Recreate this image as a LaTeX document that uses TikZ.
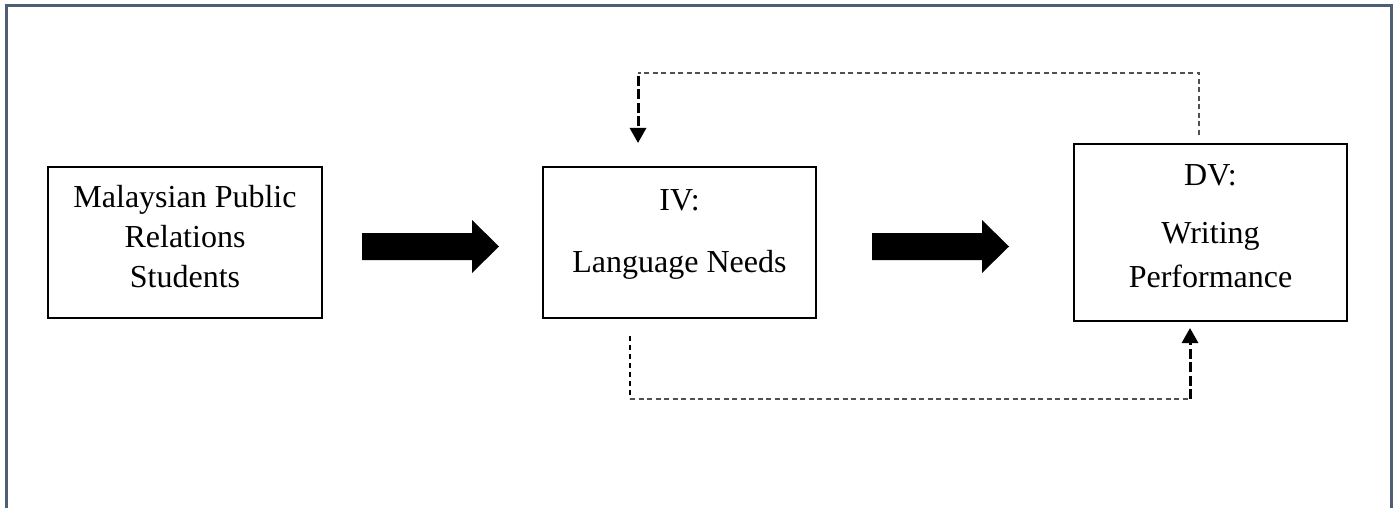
\documentclass[tikz,border=0pt]{standalone}
\usepackage{fontspec}
\setmainfont{Liberation Serif}
\usetikzlibrary{arrows.meta}
\definecolor{framecol}{RGB}{78,94,117}
\definecolor{thindash}{RGB}{80,80,80}
\tikzset{
  box/.style={draw=black, line width=2.8pt, rectangle, inner sep=0pt},
  lbl/.style={anchor=base, inner sep=0pt, font=\fontsize{32}{40}\selectfont},
  blockarrow/.style={fill=black, draw=none},
  thinline/.style={draw=thindash, line width=1.5pt, dash pattern=on 5pt off 3.5pt},
  thickdash/.style={draw=black, line width=3pt, dash pattern=on 10pt off 3.5pt},
  shortdash/.style={draw=black, line width=2.2pt, dash pattern=on 5pt off 4pt},
  tip/.style={-{Triangle[width=16pt 0, length=15pt 0]}}
}
\begin{document}
\begin{tikzpicture}[x=1pt,y=-1pt]
\useasboundingbox (0,0) rectangle (1399,508);
% outer frame (open at bottom)
\draw[framecol, line width=3pt] (6.5,508) -- (6.5,6) -- (1391,6) -- (1391,508);

% boxes
\node[box, minimum width=274pt, minimum height=151pt] (b1) at (185,242.5) {};
\node[box, minimum width=273pt, minimum height=151pt] (b2) at (679.5,242.5) {};
\node[box, minimum width=273pt, minimum height=177pt] (b3) at (1210.5,232.5) {};

% texts
\node[lbl] (t1a) at (185,207) {Malaysian Public};
\node[lbl] (t1b) at (185,247) {Relations};
\node[lbl] (t1c) at (185,287) {Students};
\node[lbl] (t2a) at (679.5,210) {IV:};
\node[lbl] (t2b) at (679.5,272) {Language Needs};
\node[lbl] (t3a) at (1210.5,185) {DV:};
\node[lbl] (t3b) at (1210.5,243) {Writing};
\node[lbl] (t3c) at (1210.5,287) {Performance};

% block arrows
\path[blockarrow] (362,233) -- (472,233) -- (472,220) -- (499,246.5) -- (472,273) -- (472,260) -- (362,260) -- cycle;
\path[blockarrow] (872,233) -- (982,233) -- (982,220) -- (1009,246.5) -- (982,273) -- (982,260) -- (872,260) -- cycle;

% top dashed feedback connector
\coordinate (a1) at (1199,135);
\coordinate (a2) at (1199,73);
\coordinate (a3) at (638,73);
\coordinate (a4) at (638,143);
\draw[thinline] (a1) -- (a2) -- (a3);
\draw[thickdash, tip] (638,76) -- (a4);

% bottom dashed connector
\coordinate (c1) at (630,336);
\coordinate (c2) at (630,399);
\coordinate (c3) at (1190,399);
\coordinate (c4) at (1190,328);
\draw[shortdash] (c1) -- (c2);
\draw[thinline] (c2) -- (c3);
\draw[thickdash, tip] (c3) -- (c4);
\end{tikzpicture}
\end{document}
